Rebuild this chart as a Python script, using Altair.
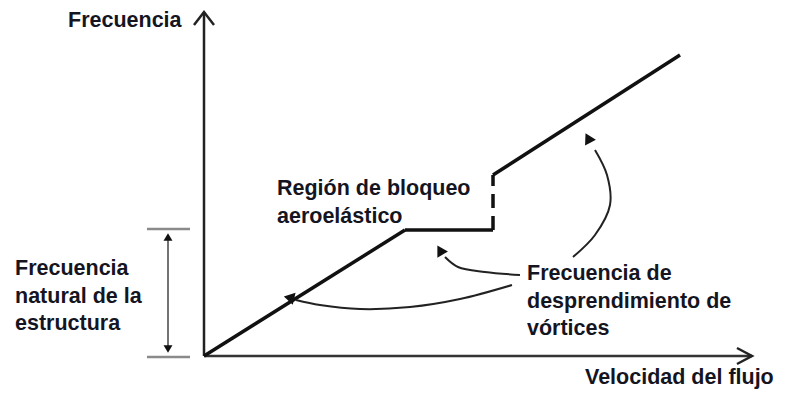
import altair as alt
import pandas as pd

# ---- data (velocity / frequency in arbitrary schematic units) ----
# lock-in curve
rise_v = [0.0, 10.05]
rise_f = [0.0, 6.3]
plateau_v = [10.05, 14.45]
plateau_f = [6.3, 6.3]
jump_v = [14.45, 14.45]
jump_f = [6.3, 9.05]
upper_v = [14.45, 23.8]
upper_f = [9.05, 15.05]

# axes
yaxis_v = [0.0, 0.0]
yaxis_f = [0.0, 17.2]
ychev_v = [-0.5, 0.0, 0.5]
ychev_f = [16.55, 17.2, 16.55]
xaxis_v = [0.0, 27.4]
xaxis_f = [0.0, 0.0]
xchev_v = [26.65, 27.4, 26.65]
xchev_f = [0.4, 0.0, -0.4]

# natural-frequency bracket
tick_v = [-2.85, -0.7]
tick_top_f = [6.35, 6.35]
tick_bot_f = [-0.05, -0.05]
shaft_v = [-1.8, -1.8]
shaft_f = [6.0, 0.3]
bheads_v = [-1.8, -1.8]
bheads_f = [5.95, 0.35]
bheads_angle = [0, 180]

# curved annotation arrows
arrA_v = [15.8, 14.05, 12.7, 12.05]
arrA_f = [4.05, 4.2, 4.45, 4.95]
arrB_v = [15.4, 12.8, 10.3, 7.8, 5.8, 4.6]
arrB_f = [3.55, 2.85, 2.45, 2.35, 2.55, 2.8]
arrC_v = [18.45, 19.55, 20.3, 20.15, 19.55]
arrC_f = [4.95, 6.05, 7.55, 9.05, 10.3]
heads_v = [11.8, 4.25, 19.2]
heads_f = [5.3, 2.92, 10.9]
heads_angle = [330, 283, 332]

# labels
label_text = [
    "Frecuencia",
    "Frecuencia\nnatural de la\nestructura",
    "Región de bloqueo\naeroelástico",
    "Frecuencia de\ndesprendimiento de\nvórtices",
    "Velocidad del flujo",
]
label_v = [-6.8, -9.45, 3.65, 16.15, 19.05]
label_f = [16.45, 4.05, 8.05, 3.8, -1.42]

xs = alt.Scale(domain=[-9.8, 28.65], nice=False, zero=False)
ys = alt.Scale(domain=[-1.7, 17.4], nice=False, zero=False)


def line(v, f, color="#111", width=3.0, dash=None, interp="linear"):
    df = pd.DataFrame({"v": v, "f": f, "i": list(range(len(v)))})
    kw = dict(color=color, strokeWidth=width, interpolate=interp, strokeCap="butt")
    if dash:
        kw["strokeDash"] = dash
    return alt.Chart(df).mark_line(**kw).encode(
        x=alt.X("v:Q", scale=xs, axis=None),
        y=alt.Y("f:Q", scale=ys, axis=None),
        order=alt.Order("i:Q"),
    )


def heads(v, f, ang, size=70, color="#111"):
    df = pd.DataFrame({"v": v, "f": f, "a": ang})
    return alt.Chart(df).mark_point(
        shape="triangle-up", filled=True, color=color, size=size, opacity=1
    ).encode(
        x=alt.X("v:Q", scale=xs, axis=None),
        y=alt.Y("f:Q", scale=ys, axis=None),
        angle=alt.Angle("a:Q", scale=None),
    )


labels_df = pd.DataFrame({"t": label_text, "v": label_v, "f": label_f})
labels = alt.Chart(labels_df).mark_text(
    align="left", baseline="alphabetic", font="Liberation Sans",
    fontWeight="bold", fontSize=21.5, lineHeight=27.5, color="#15151f",
    lineBreak="\n",
).encode(
    x=alt.X("v:Q", scale=xs, axis=None),
    y=alt.Y("f:Q", scale=ys, axis=None),
    text="t:N",
)

chart = alt.layer(
    line(yaxis_v, yaxis_f, "#222", 2.5),
    line(ychev_v, ychev_f, "#222", 2.5),
    line(xaxis_v, xaxis_f, "#333", 2.5),
    line(xchev_v, xchev_f, "#222", 2.5),
    line(tick_v, tick_top_f, "#8a8a8a", 2.5),
    line(tick_v, tick_bot_f, "#8a8a8a", 2.5),
    line(shaft_v, shaft_f, "#444", 1.5),
    heads(bheads_v, bheads_f, bheads_angle, size=80),
    line(rise_v, rise_f, "#111", 3.5),
    line(plateau_v, plateau_f, "#111", 3.5),
    line(jump_v, jump_f, "#111", 3.5, dash=[14, 8]),
    line(upper_v, upper_f, "#111", 3.5),
    line(arrA_v, arrA_f, "#222", 2.0, interp="catmull-rom"),
    line(arrB_v, arrB_f, "#222", 2.0, interp="catmull-rom"),
    line(arrC_v, arrC_f, "#222", 2.0, interp="catmull-rom"),
    heads(heads_v, heads_f, heads_angle, size=150),
    labels,
).properties(
    width=769, height=382, padding=0, autosize=alt.AutoSizeParams(type="none"),
    background="white",
).configure_view(stroke=None)

chart.save("out.html", embed_options={"renderer": "svg", "actions": False})
